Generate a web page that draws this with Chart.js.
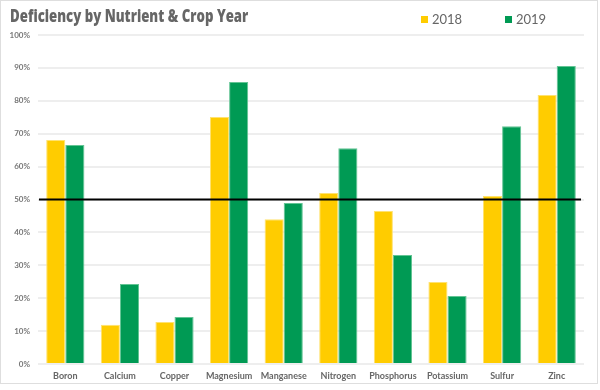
<!DOCTYPE html>
<html>
<head>
<meta charset="utf-8">
<script src="https://cdn.jsdelivr.net/npm/chart.js@4"></script>
<style>
    body { margin: 0; background: #fff; font-family: "Lato", sans-serif; }
    #frame { position: absolute; left: 0; top: 0; width: 598px; height: 384px; border: 1px solid #dedede; box-sizing: border-box; }
    #chartWrap { position: absolute; left: 0; top: 0; width: 596px; height: 382px; }
    #title { position: absolute; left: 10px; top: 3px; font-family: "Open Sans", sans-serif; font-size: 18px; font-weight: 800; color: #666; white-space: nowrap; transform-origin: 0 0; }
    #legend { position: absolute; top: 11px; left: 421px; font-size: 13px; color: #666; }
    .item { position: absolute; white-space: nowrap; }
    .swatch { display: inline-block; width: 7px; height: 7px; margin-right: 4px; vertical-align: 1px; }
</style>
</head>
<body>
<div id="frame">
    <div id="chartWrap"><canvas id="barChart"></canvas></div>
</div>
<div id="title">Deficiency by Nutrient &amp; Crop Year</div>
<div id="legend"></div>
<script>
const nutrients = ['Boron', 'Calcium', 'Copper', 'Magnesium', 'Manganese', 'Nitrogen', 'Phosphorus', 'Potassium', 'Sulfur', 'Zinc'];
const years = ['2018', '2019'];
const values2018 = [68.1, 11.9, 12.8, 75.1, 44.0, 52.0, 46.5, 24.9, 51.1, 81.8];
const values2019 = [66.6, 24.3, 14.3, 85.7, 48.9, 65.6, 33.1, 20.7, 72.3, 90.6];
const percentTicks = [0, 10, 20, 30, 40, 50, 60, 70, 80, 90, 100];
const threshold = 50;

const colors = ['#ffcc00', '#009a54'];
const borders = ['#ffe270', '#63c494'];

// squeeze the title to the width it has in the original
const titleEl = document.getElementById('title');
titleEl.style.transform = `scaleX(${238 / titleEl.offsetWidth})`;

const thresholdLine = {
    id: 'thresholdLine',
    afterDatasetsDraw(chart) {
        const { ctx, chartArea, scales } = chart;
        const y = scales.y.getPixelForValue(threshold);
        ctx.save();
        ctx.strokeStyle = '#000';
        ctx.lineWidth = 2;
        ctx.beginPath();
        ctx.moveTo(chartArea.left + 1, y);
        ctx.lineTo(chartArea.right - 3, y);
        ctx.stroke();
        ctx.restore();
    }
};

// legend
const legendEl = document.getElementById('legend');
years.forEach((yr, i) => {
    const item = document.createElement('div');
    item.className = 'item';
    item.style.left = (i * 84) + 'px';
    item.innerHTML = `<span class="swatch" style="background:${colors[i]}"></span>${yr}`;
    legendEl.appendChild(item);
});

new Chart(document.getElementById('barChart'), {
    type: 'bar',
    data: {
        labels: nutrients,
        datasets: [values2018, values2019].map((vals, i) => ({
            label: years[i],
            data: vals,
            backgroundColor: colors[i],
            borderColor: borders[i],
            borderWidth: 1,
            categoryPercentage: 0.7,
            barPercentage: 1.0
        }))
    },
    options: {
        responsive: true,
        maintainAspectRatio: false,
        animation: false,
        layout: { padding: { top: 34, right: 13, left: 0, bottom: 0 } },
        plugins: {
            legend: { display: false },
            title: { display: false },
            tooltip: { enabled: false }
        },
        scales: {
            x: {
                grid: { display: false, drawTicks: false },
                border: { display: false },
                ticks: {
                    padding: 7,
                    color: '#666',
                    font: { family: 'Lato', size: 9, weight: 'bold' },
                    maxRotation: 0,
                    autoSkip: false
                },
                afterFit(scale) { scale.height = 19; }
            },
            y: {
                min: 0,
                max: 100,
                afterBuildTicks(scale) { scale.ticks = percentTicks.map(v => ({ value: v })); },
                grid: { color: '#eeeeee', lineWidth: 2, drawTicks: false },
                border: { display: false },
                ticks: {
                    padding: 8,
                    color: '#777',
                    font: { family: 'Lato', size: 8, weight: 'bold' },
                    callback: v => v + '%'
                },
                afterFit(scale) { scale.width = 37; }
            }
        }
    },
    plugins: [thresholdLine]
});
</script>
</body>
</html>
